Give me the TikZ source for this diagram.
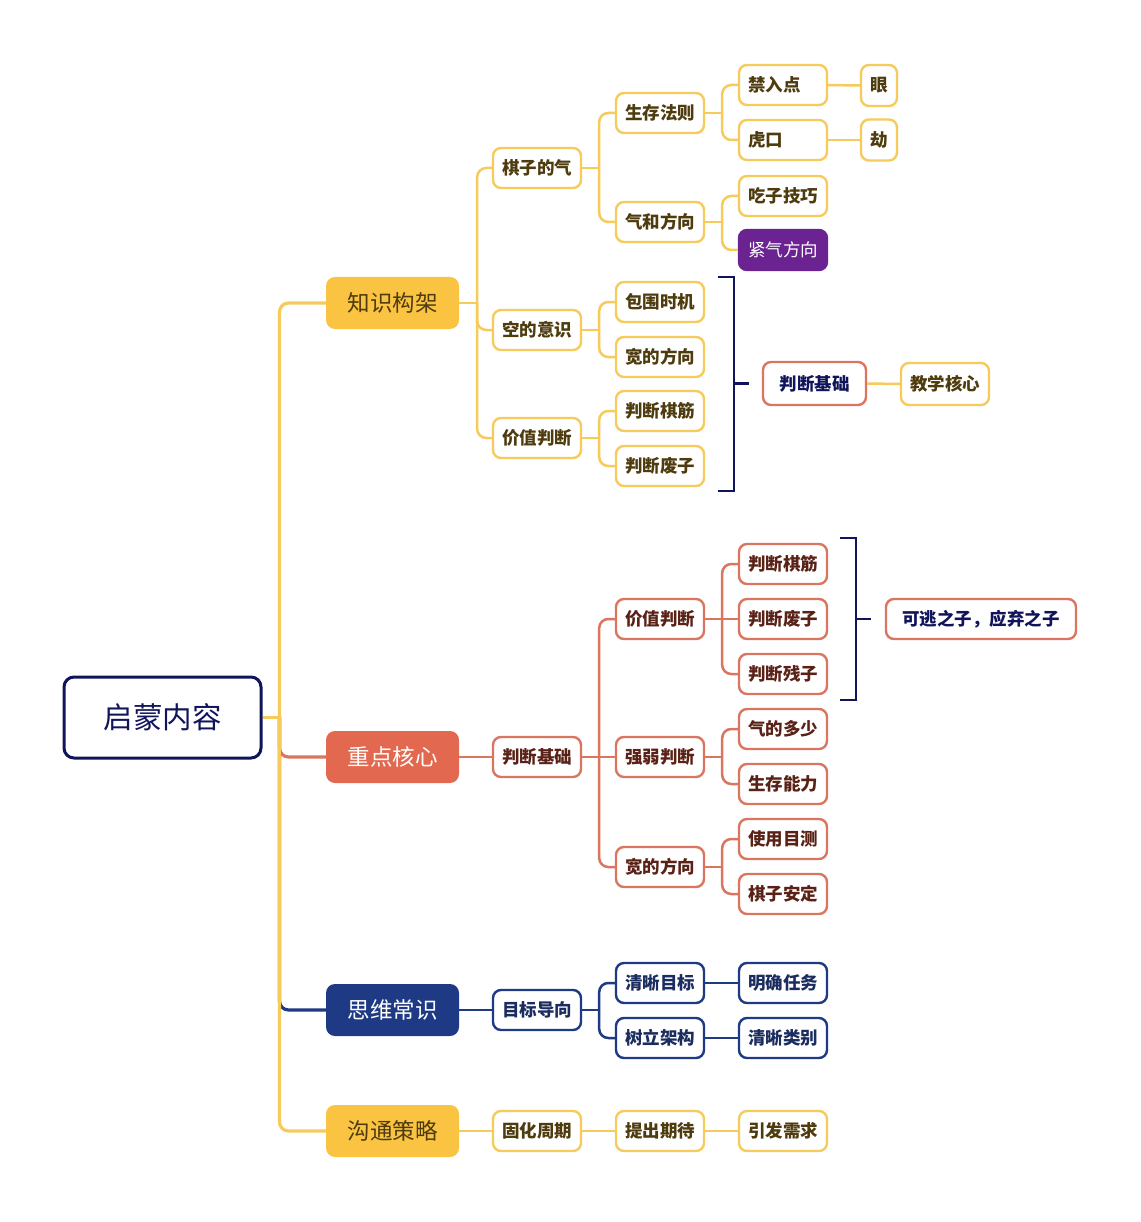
\documentclass[tikz,border=0pt]{standalone}
\usepackage{fontspec}
\newfontfamily\cjk{Noto Sans CJK SC}
\definecolor{yl}{HTML}{F6CB5C}
\definecolor{ylfill}{HTML}{FBC342}
\definecolor{yltext}{HTML}{4E3B0E}
\definecolor{rd}{HTML}{DA7560}
\definecolor{rdfill}{HTML}{E2694F}
\definecolor{rdtext}{HTML}{5A2216}
\definecolor{bl}{HTML}{1F3A84}
\definecolor{bltext}{HTML}{1B2C5E}
\definecolor{nv}{HTML}{10145A}
\definecolor{pp}{HTML}{6A2391}
\begin{document}
\begin{tikzpicture}[x=1pt,y=-1pt,
  box/.style={draw, rounded corners=8pt, line width=2.4pt, fill=white, minimum width=88pt, minimum height=40pt, inner sep=0pt, font=\cjk\bfseries\fontsize{17.5}{19}\selectfont},
  ybox/.style={box, draw=yl, text=yltext},
  rbox/.style={box, draw=rd, text=rdtext},
  bbox/.style={box, draw=bl, text=bltext},
  lefttext/.style={text width=70pt, align=left},
  mainbox/.style={rounded corners=9pt, minimum width=133pt, minimum height=52pt, inner sep=0pt, font=\cjk\fontsize{22.5}{24}\selectfont},
  yline/.style={draw=yl, line width=2.5pt},
  rline/.style={draw=rd, line width=2.5pt},
  bline/.style={draw=bl, line width=2.5pt},
  nline/.style={draw=nv, line width=2.5pt},
  trunk/.style={line width=3.2pt},
  rc/.style={rounded corners=9pt}
]
\fill[white] (0,0) rectangle (1140,1222);
\path[use as bounding box] (0,0) rectangle (1140,1222);

% root
\node[draw=nv, line width=3pt, rounded corners=10pt, minimum width=197pt, minimum height=81pt, inner sep=0pt, font=\cjk\fontsize{29.5}{32}\selectfont, text=nv, fill=white] (root) at (162.5,717.5) {启蒙内容};

% main branches
\node[mainbox, fill=ylfill, text=yltext] (m1) at (392.5,303) {知识构架};
\node[mainbox, fill=rdfill, text=white] (m2) at (392.5,757) {重点核心};
\node[mainbox, fill=bl, text=white] (m3) at (392.5,1010) {思维常识};
\node[mainbox, fill=ylfill, text=yltext] (m4) at (392.5,1131) {沟通策略};

% yellow section
\node[ybox] (a1) at (537,168) {棋子的气};
\node[ybox] (a2) at (537,330) {空的意识};
\node[ybox] (a3) at (537,438) {价值判断};
\node[ybox] (b1) at (660,113) {生存法则};
\node[ybox] (b2) at (660,222) {气和方向};
\node[ybox] (b3) at (660,302) {包围时机};
\node[ybox] (b4) at (660,357) {宽的方向};
\node[ybox] (b5) at (660,411) {判断棋筋};
\node[ybox] (b6) at (660,466) {判断废子};
\node[ybox, lefttext] (c1) at (783,85) {禁入点};
\node[ybox, lefttext] (c2) at (783,140) {虎口};
\node[ybox] (c3) at (783,196) {吃子技巧};
\node[box, draw=pp, fill=pp, text=white, font=\cjk\fontsize{17.5}{19}\selectfont] (c4) at (783,250) {紧气方向};
\node[ybox, minimum width=36pt, minimum height=41pt] (d1) at (879,85.5) {眼};
\node[ybox, minimum width=36pt, minimum height=41pt] (d2) at (879,140) {劫};
\node[rbox, text=nv, minimum width=103pt, minimum height=43pt] (j1) at (814.5,383.5) {判断基础};
\node[ybox, minimum height=42pt] (j2) at (945,384) {教学核心};

% red section
\node[rbox] (r1) at (537,757) {判断基础};
\node[rbox] (r2) at (660,619) {价值判断};
\node[rbox] (r3) at (660,757) {强弱判断};
\node[rbox] (r4) at (660,867) {宽的方向};
\node[rbox] (r5) at (783,564) {判断棋筋};
\node[rbox] (r6) at (783,619) {判断废子};
\node[rbox] (r7) at (783,674) {判断残子};
\node[rbox] (r8) at (783,729) {气的多少};
\node[rbox] (r9) at (783,784) {生存能力};
\node[rbox] (r10) at (783,839) {使用目测};
\node[rbox] (r11) at (783,894) {棋子安定};
\node[rbox, text=nv, minimum width=190pt] (rk) at (981,619) {可逃之子，应弃之子};

% blue section
\node[bbox] (u1) at (537,1010) {目标导向};
\node[bbox] (u2) at (660,983) {清晰目标};
\node[bbox] (u3) at (660,1038) {树立架构};
\node[bbox] (u4) at (783,983) {明确任务};
\node[bbox] (u5) at (783,1038) {清晰类别};

% bottom yellow
\node[ybox] (v1) at (537,1131) {固化周期};
\node[ybox] (v2) at (660,1131) {提出期待};
\node[ybox] (v3) at (783,1131) {引发需求};

% trunk
\draw[rline, trunk, rc] ([xshift=17pt]root.east) |- (m2.west);
\draw[bline, trunk, rc] ([xshift=17pt]root.east) |- (m3.west);
\draw[yline, trunk] (root.east) -- ++(17,0);
\draw[yline, trunk, rc] ([xshift=17pt]root.east) |- (m1.west);
\draw[yline, trunk, rc] ([xshift=17pt]root.east) |- (m4.west);

% yellow connectors
\draw[yline] (m1.east) -- ++(18,0);
\foreach \c in {a1,a2,a3} \draw[yline, rc] ([xshift=18pt]m1.east) |- (\c.west);
\draw[yline] (a1.east) -- ++(17,0);
\foreach \c in {b1,b2} \draw[yline, rc] ([xshift=17pt]a1.east) |- (\c.west);
\draw[yline] (a2.east) -- ++(17,0);
\foreach \c in {b3,b4} \draw[yline, rc] ([xshift=17pt]a2.east) |- (\c.west);
\draw[yline] (a3.east) -- ++(17,0);
\foreach \c in {b5,b6} \draw[yline, rc] ([xshift=17pt]a3.east) |- (\c.west);
\draw[yline] (b1.east) -- ++(17,0);
\foreach \c in {c1,c2} \draw[yline, rc] ([xshift=17pt]b1.east) |- (\c.west);
\draw[yline] (b2.east) -- ++(17,0);
\foreach \c in {c3,c4} \draw[yline, rc] ([xshift=17pt]b2.east) |- (\c.west);
\draw[yline] (c1.east) -- (d1.west);
\draw[yline] (c2.east) -- (d2.west);
\draw[yline] (j1.east) -- (j2.west);

% bracket 1
\coordinate (bk1t) at (718,277);
\coordinate (bk1b) at (718,491);
\draw[nline] (bk1t) -- ++(16,0) -- ([xshift=16pt]bk1b) -- (bk1b);
\draw[nline] ([xshift=-29pt]j1.west) -- ([xshift=-13pt]j1.west);

% red connectors
\draw[rline] (m2.east) -- (r1.west);
\draw[rline] (r1.east) -- (r3.west);
\foreach \c in {r2,r4} \draw[rline, rc] ([xshift=17pt]r1.east) |- (\c.west);
\draw[rline] (r2.east) -- (r6.west);
\foreach \c in {r5,r7} \draw[rline, rc] ([xshift=17pt]r2.east) |- (\c.west);
\draw[rline] (r3.east) -- ++(17,0);
\foreach \c in {r8,r9} \draw[rline, rc] ([xshift=17pt]r3.east) |- (\c.west);
\draw[rline] (r4.east) -- ++(17,0);
\foreach \c in {r10,r11} \draw[rline, rc] ([xshift=17pt]r4.east) |- (\c.west);

% bracket 2
\coordinate (bk2t) at (840,538);
\coordinate (bk2b) at (840,700);
\draw[nline] (bk2t) -- ++(16,0) -- ([xshift=16pt]bk2b) -- (bk2b);
\draw[nline] ([xshift=-30pt]rk.west) -- ([xshift=-14pt]rk.west);

% blue connectors
\draw[bline] (m3.east) -- (u1.west);
\draw[bline] (u1.east) -- ++(17,0);
\foreach \c in {u2,u3} \draw[bline, rc] ([xshift=17pt]u1.east) |- (\c.west);
\draw[bline] (u2.east) -- (u4.west);
\draw[bline] (u3.east) -- (u5.west);

% bottom yellow connectors
\draw[yline] (m4.east) -- (v1.west);
\draw[yline] (v1.east) -- (v2.west);
\draw[yline] (v2.east) -- (v3.west);
\end{tikzpicture}
\end{document}
